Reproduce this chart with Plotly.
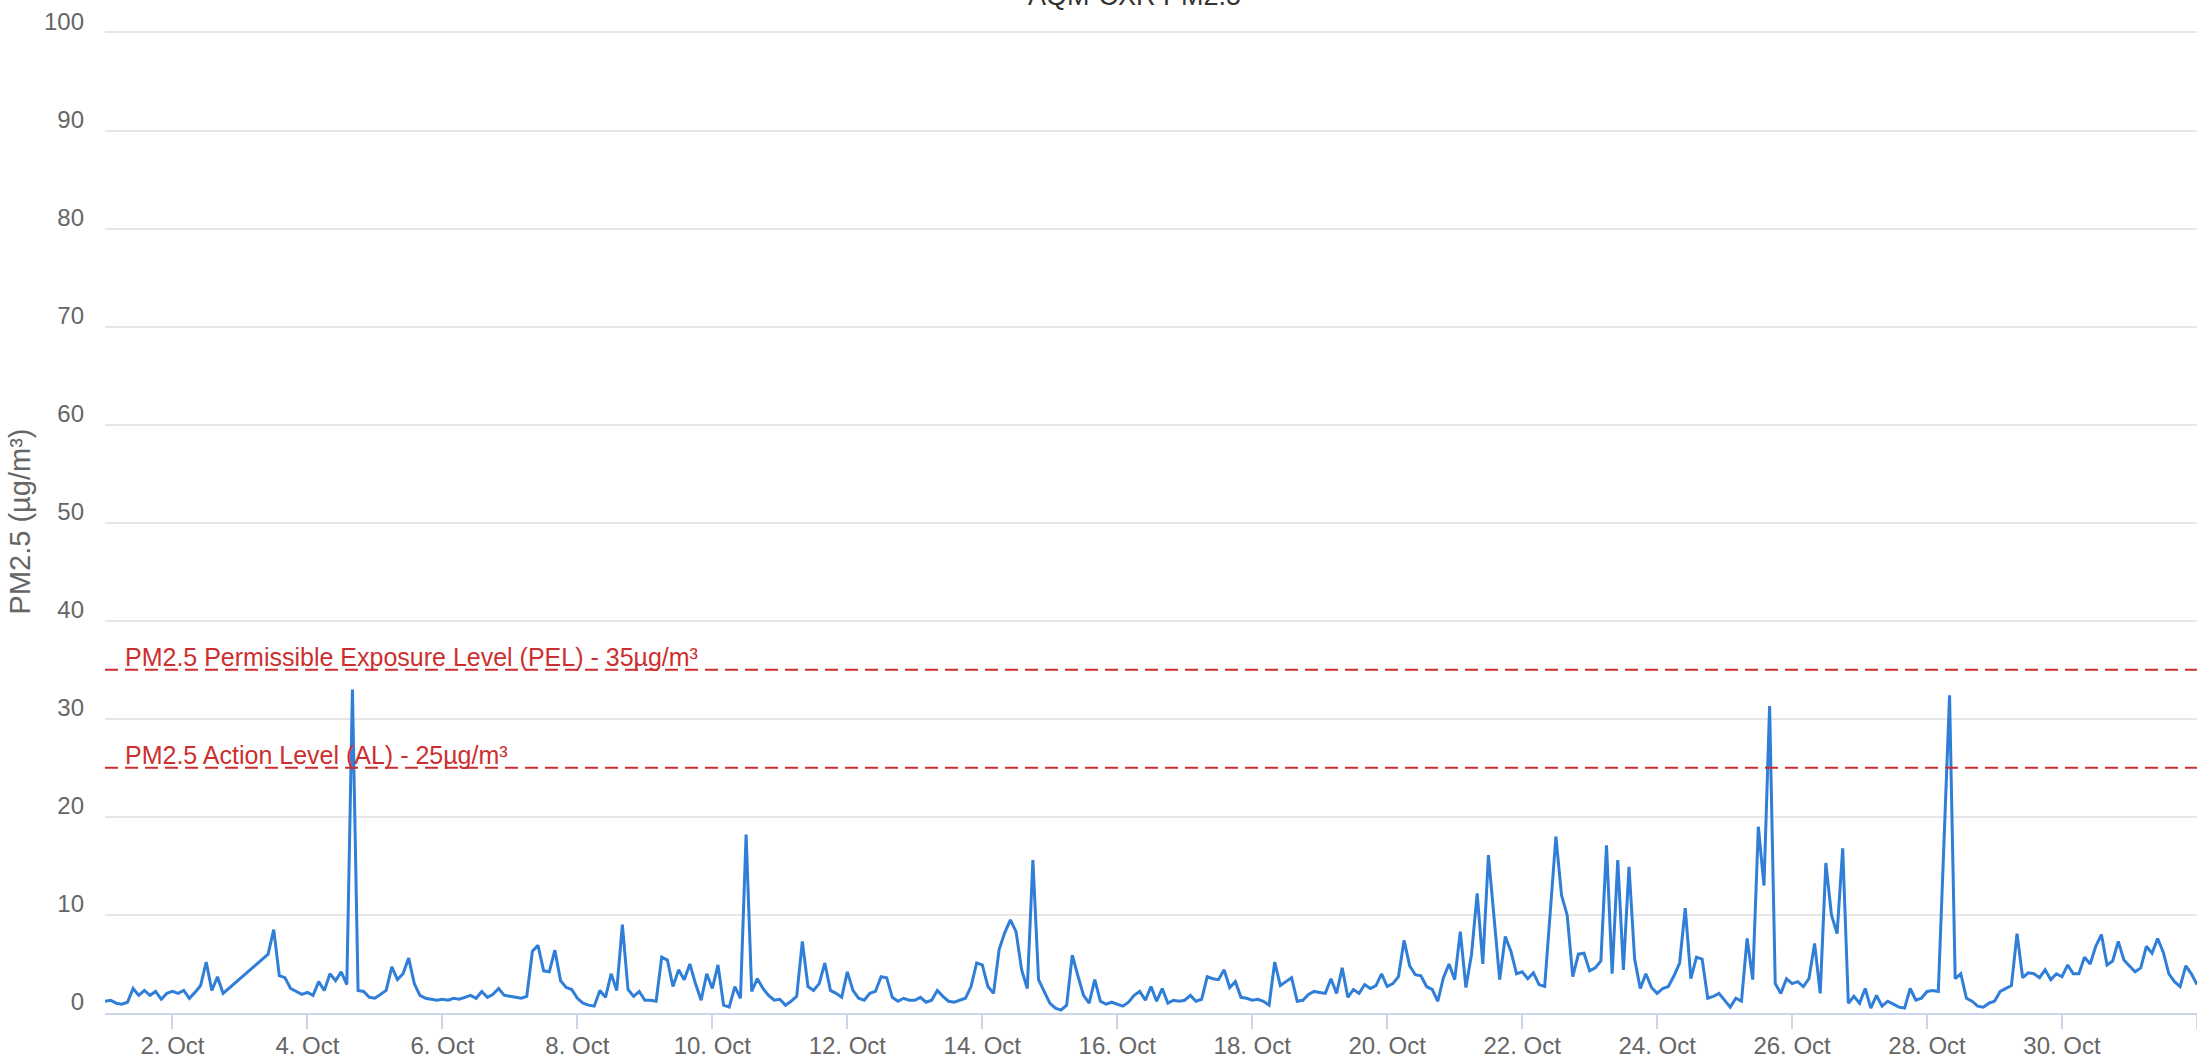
import pandas as pd
import plotly.graph_objects as go

series_name = "AQM-CXR PM2.5"
y_title = "PM2.5 (µg/m³)"

pel_value = 35
pel_label = "PM2.5 Permissible Exposure Level (PEL) - 35µg/m³"
al_value = 25
al_label = "PM2.5 Action Level (AL) - 25µg/m³"

start = "2023-10-01 00:00"
end = "2023-11-01 00:00"
step = "2h"

# 2-hourly readings, one row per day (00h .. 22h)
# None = no readings (line is joined across the gap)
pm25 = [
    1.2, 1.3, 1.0, 0.9, 1.1, 2.5, 1.8, 2.3, 1.8, 2.2, 1.4, 2.0,        # 1 Oct
    2.2, 2.0, 2.3, 1.5, 2.1, 2.8, 5.2, 2.3, 3.7, 2.0, None, None,      # 2 Oct
    None, None, None, None, None, 6.0, 8.5, 3.8, 3.6, 2.5, 2.2, 1.9,   # 3 Oct
    2.1, 1.8, 3.2, 2.3, 4.0, 3.3, 4.2, 2.9, 33.0, 2.3, 2.2, 1.6,       # 4 Oct
    1.5, 1.9, 2.3, 4.7, 3.4, 4.0, 5.6, 3.0, 1.8, 1.5, 1.4, 1.3,        # 5 Oct
    1.4, 1.3, 1.5, 1.4, 1.6, 1.8, 1.5, 2.2, 1.6, 1.9, 2.5, 1.8,        # 6 Oct
    1.7, 1.6, 1.5, 1.7, 6.3, 6.9, 4.3, 4.2, 6.4, 3.3, 2.6, 2.4,        # 7 Oct
    1.5, 1.0, 0.8, 0.7, 2.3, 1.6, 4.0, 2.3, 9.0, 2.4, 1.7, 2.2,        # 8 Oct
    1.3, 1.3, 1.2, 5.7, 5.4, 2.7, 4.4, 3.4, 5.0, 3.0, 1.3, 4.0,        # 9 Oct
    2.5, 4.9, 0.8, 0.6, 2.7, 1.5, 18.2, 2.2, 3.5, 2.5, 1.8, 1.3,       # 10 Oct
    1.4, 0.8, 1.2, 1.7, 7.3, 2.7, 2.3, 3.0, 5.1, 2.3, 2.0, 1.6,        # 11 Oct
    4.2, 2.3, 1.5, 1.3, 2.0, 2.2, 3.7, 3.6, 1.6, 1.2, 1.5, 1.3,        # 12 Oct
    1.3, 1.6, 1.1, 1.3, 2.3, 1.7, 1.2, 1.1, 1.3, 1.5, 2.7, 5.1,        # 13 Oct
    4.9, 2.7, 2.0, 6.5, 8.2, 9.5, 8.3, 4.4, 2.5, 15.6, 3.4, 2.2,       # 14 Oct
    1.0, 0.5, 0.3, 0.8, 5.9, 3.8, 1.8, 1.0, 3.4, 1.2, 0.9, 1.1,        # 15 Oct
    0.9, 0.7, 1.1, 1.8, 2.2, 1.3, 2.7, 1.2, 2.5, 1.0, 1.3, 1.2,        # 16 Oct
    1.3, 1.8, 1.2, 1.4, 3.7, 3.5, 3.4, 4.4, 2.6, 3.2, 1.6, 1.5,        # 17 Oct
    1.3, 1.4, 1.2, 0.8, 5.2, 2.8, 3.2, 3.6, 1.2, 1.3, 1.9, 2.2,        # 18 Oct
    2.1, 2.0, 3.5, 2.0, 4.6, 1.6, 2.4, 2.0, 2.9, 2.5, 2.8, 4.0,        # 19 Oct
    2.7, 3.0, 3.7, 7.4, 4.8, 3.9, 3.8, 2.7, 2.4, 1.2, 3.6, 5.0,        # 20 Oct
    3.4, 8.3, 2.6, 6.0, 12.2, 5.0, 16.1, 9.5, 3.4, 7.8, 6.3, 4.0,      # 21 Oct
    4.2, 3.5, 4.1, 2.9, 2.7, 10.3, 18.0, 12.0, 10.0, 3.7, 6.0, 6.1,    # 22 Oct
    4.3, 4.6, 5.3, 17.1, 4.0, 15.6, 4.4, 14.9, 5.5, 2.5, 4.0, 2.6,     # 23 Oct
    2.0, 2.5, 2.7, 3.8, 5.1, 10.7, 3.5, 5.7, 5.5, 1.5, 1.7, 2.0,       # 24 Oct
    1.3, 0.6, 1.5, 1.2, 7.6, 3.4, 19.0, 13.0, 31.3, 3.0, 2.0, 3.5,     # 25 Oct
    3.0, 3.2, 2.7, 3.5, 7.1, 2.0, 15.3, 10.0, 8.1, 16.8, 1.0, 1.7,     # 26 Oct
    1.0, 2.5, 0.5, 1.8, 0.7, 1.2, 0.9, 0.6, 0.5, 2.5, 1.3, 1.5,        # 27 Oct
    2.2, 2.3, 2.2, 17.0, 32.4, 3.5, 4.0, 1.5, 1.2, 0.7, 0.6, 1.0,      # 28 Oct
    1.2, 2.2, 2.5, 2.8, 8.1, 3.6, 4.1, 4.0, 3.6, 4.4, 3.4, 4.0,        # 29 Oct
    3.7, 4.9, 4.0, 4.0, 5.7, 5.0, 6.8, 8.0, 4.9, 5.3, 7.3, 5.4,        # 30 Oct
    4.8, 4.2, 4.6, 6.8, 6.1, 7.6, 6.2, 4.0, 3.2, 2.7, 4.8, 4.0,        # 31 Oct
    2.9,                                                              # 1 Nov
]

times = pd.date_range(start, periods=len(pm25), freq=step)

red = "#cc2f2f"
grey = "#666666"

fig = go.Figure()
fig.add_trace(go.Scatter(
    x=times, y=pm25, mode="lines", name=series_name,
    line=dict(color="#2f7ed8", width=3),
    connectgaps=True,
))

# limit lines with their labels
for value, label in [(pel_value, pel_label), (al_value, al_label)]:
    fig.add_shape(type="line", xref="paper", x0=0, x1=1, yref="y", y0=value, y1=value,
                  line=dict(color=red, width=2, dash="13px,7px"))
    fig.add_annotation(xref="paper", x=0, xanchor="left", xshift=18,
                       yref="y", y=value, yanchor="bottom", yshift=-3,
                       text=label, showarrow=False, font=dict(color=red, size=25))

fig.update_layout(
    width=2197, height=1061,
    margin=dict(l=105, r=0, t=30, b=48, autoexpand=False),
    plot_bgcolor="white", paper_bgcolor="white",
    font=dict(family="Liberation Sans, Arial, sans-serif", color=grey),
    showlegend=True,
    legend=dict(orientation="h", x=0.484, xanchor="center", y=1.036, yanchor="middle",
                font=dict(size=27, color="#333333"), bgcolor="rgba(0,0,0,0)"),
    xaxis=dict(
        type="date", range=[start, end],
        tick0="2023-10-02", dtick=2 * 86400000, tickformat="%-d. %b",
        ticks="outside", ticklen=14, tickcolor="#ccd6eb", tickwidth=1.5,
        showline=True, linecolor="#ccd6eb", linewidth=1.5,
        showgrid=False, zeroline=False,
        tickfont=dict(size=24, color=grey), ticklabelstandoff=-4,
    ),
    yaxis=dict(
        # a little headroom so the 100 grid line is not dropped at the plot edge
        range=[0, 100.25], tickvals=list(range(0, 101, 10)),
        gridcolor="#e6e6e6", gridwidth=1.5, zeroline=False,
        tickfont=dict(size=24, color=grey),
        ticklabelstandoff=20, ticklabelshift=-11,
        title=dict(text=y_title, font=dict(size=29, color=grey), standoff=4),
    ),
)

fig.write_html("out.html", config={"displayModeBar": False},
               post_script="document.body.style.margin='0';")
